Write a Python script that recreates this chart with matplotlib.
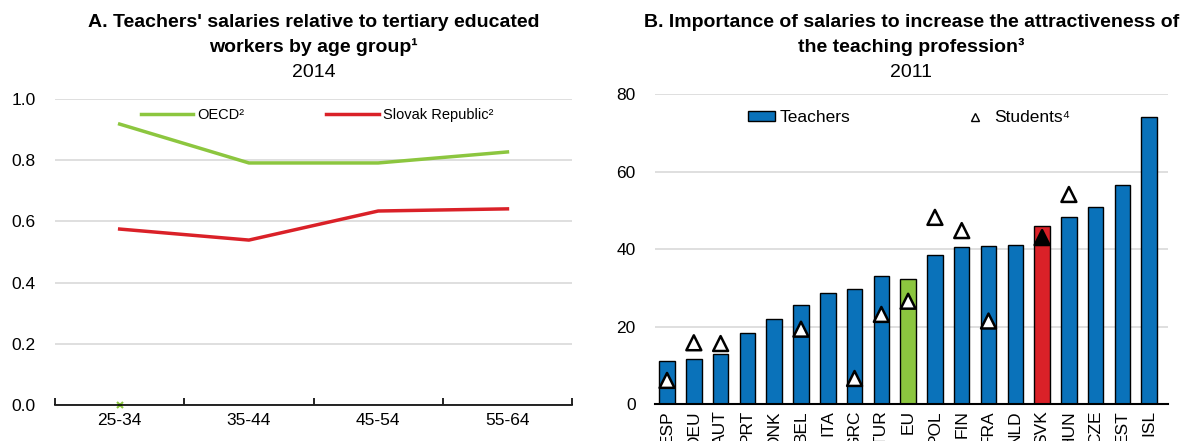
import numpy as np
import matplotlib
matplotlib.use("Agg")
from matplotlib import pyplot as plt
from matplotlib.lines import Line2D
from matplotlib.patches import Patch

plt.rcParams['font.family'] = ['Liberation Sans', 'DejaVu Sans']

# Panel A
age_groups = ["25-34", "35-44", "45-54", "55-64"]
oecd = [0.918, 0.791, 0.791, 0.827]
slovak = [0.575, 0.539, 0.634, 0.641]

# Panel B
countries = ["ESP", "DEU", "AUT", "PRT", "DNK", "BEL", "ITA", "GRC", "TUR", "EU",
             "POL", "FIN", "FRA", "NLD", "SVK", "HUN", "CZE", "EST", "ISL"]
teachers = [11.1, 11.8, 13.0, 18.4, 22.0, 25.5, 28.6, 29.8, 33.2, 32.3,
            38.5, 40.5, 40.8, 41.1, 46.0, 48.4, 50.9, 56.6, 74.1]
students = [6.2, 15.9, 15.7, np.nan, np.nan, 19.4, np.nan, 6.7, 23.2, 26.6,
            48.2, 44.8, 21.5, np.nan, 43.0, 54.1, np.nan, np.nan, np.nan]

blue = '#0A72BA'
green = '#8CC63F'
red = '#DA2128'
grid = '#D9D9D9'

fig = plt.figure(figsize=(11.81, 4.41), dpi=100)

# ---- panel A ----
ax1 = fig.add_axes([0.0466, 0.0816, 0.4378, 0.6939])
x = np.arange(len(age_groups)) + 0.5
ax1.plot(x, oecd, color=green, lw=2.5, label="OECD²")
ax1.plot(x, slovak, color=red, lw=2.5, label="Slovak Republic²")
ax1.plot([0.5], [0.0], marker='x', color=green, ms=4, mew=1.5, clip_on=False)
ax1.set_xlim(0, 4)
ax1.set_ylim(0, 1.0)
yt = np.arange(0, 1.01, 0.2)
ax1.set_yticks(yt)
ax1.set_yticklabels(["%.1f" % v for v in yt])
ax1.set_xticks([0, 1, 2, 3, 4])
ax1.set_xticklabels([])
ax1.set_xticks(x, minor=True)
ax1.set_xticklabels(age_groups, minor=True)
ax1.tick_params(axis='x', which='major', direction='in', length=5, width=1.2)
ax1.tick_params(axis='x', which='minor', length=0, labelsize=12.5, pad=6)
ax1.tick_params(axis='y', length=0, labelsize=12.5, pad=14)
ax1.grid(axis='y', color=grid, lw=1.2)
ax1.set_axisbelow(True)
for s in ['top', 'right', 'left']:
    ax1.spines[s].set_visible(False)
ax1.spines['bottom'].set_linewidth(1.2)
ax1.legend(loc='center left', bbox_to_anchor=(0.166, 0.948), ncol=2, frameon=False,
           fontsize=10.5, handlelength=3.6, columnspacing=5.6, handletextpad=0.3,
           borderpad=0, borderaxespad=0)

tx1 = 0.0466 + 0.4378 / 2
fig.text(tx1, 0.95, "A. Teachers' salaries relative to tertiary educated",
         ha='center', va='center', fontsize=14, fontweight='bold')
fig.text(tx1, 0.893, "workers by age group¹", ha='center', va='center',
         fontsize=14, fontweight='bold')
fig.text(tx1, 0.835, "2014", ha='center', va='center', fontsize=14)

# ---- panel B ----
ax2 = fig.add_axes([0.5546, 0.0828, 0.4344, 0.7042])
pos = np.arange(len(countries))
colors = [blue] * len(countries)
colors[countries.index("EU")] = green
colors[countries.index("SVK")] = red
ax2.bar(pos, teachers, width=0.58, color=colors, edgecolor='black', lw=1)
face = ['black' if c == "SVK" else 'white' for c in countries]
ax2.scatter(pos, students, marker='^', s=115, c=face, edgecolors='black',
            linewidths=1.8, zorder=3)
ax2.set_xlim(-0.45, 18.7)
ax2.set_ylim(0, 80)
ax2.set_yticks([0, 20, 40, 60, 80])
ax2.set_xticks(pos)
ax2.set_xticklabels(countries, rotation=90)
ax2.tick_params(axis='x', length=0, labelsize=12.5, pad=4)
ax2.tick_params(axis='y', length=0, labelsize=12.5, pad=14)
ax2.grid(axis='y', color=grid, lw=1.2)
ax2.set_axisbelow(True)
for s in ['top', 'right', 'left']:
    ax2.spines[s].set_visible(False)
ax2.spines['bottom'].set_linewidth(1.5)
handles = [Patch(facecolor=blue, edgecolor='black', lw=1),
           Line2D([], [], ls='none', marker='^', ms=6, mfc='white', mec='black', mew=1)]
ax2.legend(handles, ["Teachers", "Students⁴"], loc='center left',
           bbox_to_anchor=(0.181, 0.923), ncol=2, frameon=False, fontsize=12.5,
           handlelength=1.55, handleheight=0.5, columnspacing=6.4,
           handletextpad=0.3, borderpad=0, borderaxespad=0)

tx2 = 0.5546 + 0.4344 / 2
fig.text(tx2, 0.95, "B. Importance of salaries to increase the attractiveness of",
         ha='center', va='center', fontsize=14, fontweight='bold')
fig.text(tx2, 0.893, "the teaching profession³", ha='center', va='center',
         fontsize=14, fontweight='bold')
fig.text(tx2, 0.835, "2011", ha='center', va='center', fontsize=14)

fig.savefig("out.png", dpi=100)
